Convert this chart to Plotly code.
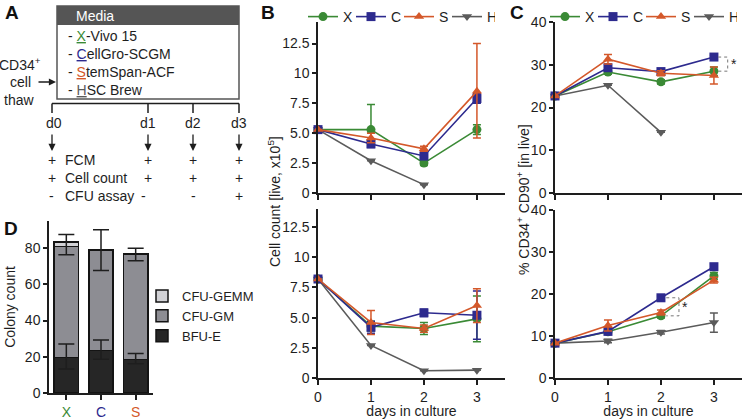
import plotly.graph_objects as go

W, H = 744, 419

# ---------------- data ----------------
days = [0, 1, 2, 3]
series = ["X", "C", "S", "H"]

# Panel B top: cell count [live, x10^5]
cnt_top = {
    "X": [5.3, 5.3, 2.5, 5.3],
    "C": [5.3, 4.1, 3.1, 7.9],
    "S": [5.3, 4.6, 3.7, 8.5],
    "H": [5.3, 2.7, 0.7, None],
}
cnt_top_up = {"X": [0, 2.1, 0.2, 0.4], "C": [0, 0.3, 0.3, 0.4], "S": [0, 0.4, 0.2, 4.0], "H": [0, 0, 0, 0]}
cnt_top_dn = {"X": [0, 0.2, 0.2, 0.4], "C": [0, 0.3, 0.3, 0.4], "S": [0, 0.4, 0.2, 3.9], "H": [0, 0, 0, 0]}

# Panel B bottom
cnt_bot = {
    "X": [8.2, 4.3, 4.1, 4.9],
    "C": [8.2, 4.2, 5.4, 5.2],
    "S": [8.2, 4.6, 4.1, 6.0],
    "H": [8.2, 2.7, 0.6, 0.65],
}
cnt_bot_err = {"X": [0, 0.4, 0.5, 1.9], "C": [0, 0.5, 0.3, 2.0], "S": [0, 1.0, 0.3, 1.4], "H": [0, 0, 0, 0]}

# Panel C top: % CD34+ CD90+ [in live]
cd_top = {
    "X": [22.7, 28.3, 26.0, 28.5],
    "C": [22.7, 29.3, 28.4, 31.8],
    "S": [22.7, 31.3, 28.0, 27.5],
    "H": [22.7, 25.2, 14.2, None],
}
cd_top_err = {"X": [0, 0.5, 0.5, 1.0], "C": [0, 0.8, 0.5, 0.4], "S": [0, 1.1, 0.6, 2.0], "H": [0, 0, 0, 0]}

# Panel C bottom
cd_bot = {
    "X": [8.3, 11.0, 14.8, 24.3],
    "C": [8.3, 11.1, 19.1, 26.5],
    "S": [8.3, 12.5, 15.6, 23.3],
    "H": [8.3, 8.8, 10.9, 13.2],
}
cd_bot_err = {"X": [0, 0.5, 0.5, 0.8], "C": [0, 0.5, 0.4, 0.7], "S": [0, 1.3, 0.6, 0.7], "H": [0, 0.4, 0.4, 2.3]}

# Panel D: colony counts
media_d = ["X", "C", "S"]
bfu_e = [19.6, 23.4, 18.5]
bfu_e_up = [7.4, 5.9, 3.3]
bfu_e_dn = [6.3, 4.8, 2.3]
cfu_gm = [61.4, 55.2, 57.9]
cfu_gm_up = [6.5, 11.6, 3.6]
cfu_gm_dn = [4.6, 10.9, 3.4]
cfu_gemm = [2.4, 0.3, 0.4]

cnt_ticks = [0, 2.5, 5, 7.5, 10, 12.5]
cnt_ticktext = ["0", "2.5", "5.0", "7.5", "10", "12.5"]
cd_ticks = [0, 10, 20, 30, 40]
col_ticks = [0, 20, 40, 60, 80]

media_names = ["X-Vivo 15", "CellGro-SCGM", "StemSpan-ACF", "HSC Brew"]
timepoints = ["d0", "d1", "d2", "d3"]

# ---------------- style ----------------
FONT = "Arial, Liberation Sans, Helvetica, sans-serif"
INK = "#1e1e1e"
colors = {"X": "#3a8a35", "C": "#2d2a8e", "S": "#d4582a", "H": "#5b5b5b"}
symbols = {"X": "circle", "C": "square", "S": "triangle-up", "H": "triangle-down"}
rank = {"X": 1, "C": 2, "S": 3, "H": 4}
draw_order = ["H", "X", "C", "S"]


def px(x):
    return x / W


def py(y):
    return 1 - y / H


fig = go.Figure()


def add_series(data, up, dn, xa, ya, legend, show):
    for s in draw_order:
        fig.add_trace(go.Scatter(
            x=days, y=data[s], name=f"<span style='color:{INK}'>{s}</span>", mode="lines+markers",
            line=dict(color=colors[s], width=1.6),
            marker=dict(symbol=symbols[s], size=9, color=colors[s]),
            error_y=dict(type="data", symmetric=False, array=up[s], arrayminus=dn[s],
                         color=colors[s], thickness=1.5, width=4),
            cliponaxis=False, xaxis=xa, yaxis=ya,
            legend=legend, showlegend=show, legendrank=rank[s],
        ))


add_series(cnt_top, cnt_top_up, cnt_top_dn, "x", "y", "legend", True)
add_series(cnt_bot, cnt_bot_err, cnt_bot_err, "x2", "y2", "legend", False)
add_series(cd_top, cd_top_err, cd_top_err, "x3", "y3", "legend2", True)
add_series(cd_bot, cd_bot_err, cd_bot_err, "x4", "y4", "legend2", False)

bar_line = dict(color="#141414", width=1.5)
fig.add_trace(go.Bar(x=media_d, y=bfu_e, name="BFU-E", marker=dict(color="#262626", line=bar_line),
                     xaxis="x5", yaxis="y5", legend="legend3", width=0.7))
fig.add_trace(go.Bar(x=media_d, y=cfu_gm, name="CFU-GM", marker=dict(color="#8d8d93", line=bar_line),
                     xaxis="x5", yaxis="y5", legend="legend3", width=0.7))
fig.add_trace(go.Bar(x=media_d, y=cfu_gemm, name="CFU-GEMM", marker=dict(color="#d2d2d6", line=bar_line),
                     xaxis="x5", yaxis="y5", legend="legend3", width=0.7))

# error bars drawn above the stacked bars (BFU-E level and CFU-GM stacked top)
gm_top = [b + g for b, g in zip(bfu_e, cfu_gm)]
for yy, up, dn in [(bfu_e, bfu_e_up, bfu_e_dn), (gm_top, cfu_gm_up, cfu_gm_dn)]:
    fig.add_trace(go.Scatter(x=media_d, y=yy, mode="markers",
                             marker=dict(size=1, color="rgba(0,0,0,0)"),
                             error_y=dict(type="data", symmetric=False, array=up, arrayminus=dn,
                                          color=INK, thickness=1.5, width=8),
                             xaxis="x5", yaxis="y5", showlegend=False, hoverinfo="skip"))

# ---------------- axes ----------------
ax_common = dict(showline=True, linecolor=INK, linewidth=1.5, ticks="outside", ticklen=5,
                 tickwidth=1.5, tickcolor=INK, showgrid=False, zeroline=False,
                 tickfont=dict(family=FONT, size=14, color=INK))

bx = [px(318), px(505)]
cx = [px(555), px(742)]
top_y = [py(193), py(22)]
bot_y = [py(378), py(209)]

xday = dict(ax_common, range=[0, 3.53], tickvals=days)
fig.update_layout(
    xaxis=dict(xday, domain=bx, anchor="y", showticklabels=False),
    yaxis=dict(ax_common, domain=top_y, anchor="x", range=[0, 14.3], tickvals=cnt_ticks, ticktext=cnt_ticktext, ticklen=4),
    xaxis2=dict(xday, domain=bx, anchor="y2",
                title=dict(text="days in culture", font=dict(family=FONT, size=14, color=INK), standoff=2)),
    yaxis2=dict(ax_common, domain=bot_y, anchor="x2", range=[0, 14.0], tickvals=cnt_ticks, ticktext=cnt_ticktext, ticklen=4),
    xaxis3=dict(xday, domain=cx, anchor="y3", showticklabels=False),
    yaxis3=dict(ax_common, domain=top_y, anchor="x3", range=[0, 40], tickvals=cd_ticks, ticklen=4),
    xaxis4=dict(xday, domain=cx, anchor="y4",
                title=dict(text="days in culture", font=dict(family=FONT, size=14, color=INK), standoff=2)),
    yaxis4=dict(ax_common, domain=[py(378), py(210)], anchor="x4", range=[0, 40], tickvals=cd_ticks, ticklen=4),
    xaxis5=dict(ax_common, domain=[px(49), px(153)], anchor="y5", range=[-0.5, 2.5],
                tickvals=media_d,
                ticktext=[f"<span style='color:{colors[m]}'>{m}</span>" for m in media_d]),
    yaxis5=dict(ax_common, domain=[py(393), py(221)], anchor="x5", range=[0, 95], tickvals=col_ticks, ticklen=4,
                title=dict(text="Colony count", font=dict(family=FONT, size=14, color=INK), standoff=6)),
    barmode="stack",
)

leg_common = dict(orientation="h", font=dict(family=FONT, size=14, color=INK), bgcolor="rgba(0,0,0,0)",
                  itemsizing="trace", traceorder="normal", xanchor="left", yanchor="middle",
                  itemwidth=30, entrywidth=3, entrywidthmode="pixels")
fig.update_layout(
    legend=dict(leg_common, x=px(303), y=py(17)),
    legend2=dict(leg_common, x=px(545), y=py(17)),
    legend3=dict(font=dict(family=FONT, size=13, color=INK), bgcolor="rgba(0,0,0,0)", traceorder="reversed",
                 x=px(142), y=py(316), xanchor="left", yanchor="middle", tracegroupgap=0, itemwidth=30),
)

shapes = []
annotations = []

# significance brackets (panel C)
def bracket(xa, ya, xday_, y_hi, y_lo, x_end, star_x):
    shapes.append(dict(type="path", xref=xa, yref=ya,
                       path=f"M {xday_},{y_hi} L {x_end},{y_hi} L {x_end},{y_lo} L {xday_},{y_lo}",
                       line=dict(color="#777777", width=1, dash="dot")))
    annotations.append(dict(text="*", xref=xa, yref=ya, x=star_x, y=(y_hi + y_lo) / 2,
                            xanchor="center", yanchor="middle",
                            showarrow=False, font=dict(family=FONT, size=14, color=INK)))

bracket("x3", "y3", 3.08, cd_top["C"][3], cd_top["X"][3], 3.26, 3.38)
bracket("x4", "y4", 2.1, cd_bot["C"][2], cd_bot["X"][2], 2.34, 2.46)

# axis titles spanning panels
annotations.append(dict(text="Cell count [live, x10<sup>5</sup>]", xref="paper", yref="paper",
                        x=px(274), y=py(202), textangle=-90, showarrow=False,
                        xanchor="center", yanchor="middle",
                        font=dict(family=FONT, size=14, color=INK)))
annotations.append(dict(text="% CD34<sup>+</sup> CD90<sup>+</sup> [in live]", xref="paper", yref="paper",
                        x=px(523), y=py(200), textangle=-90, showarrow=False,
                        xanchor="center", yanchor="middle",
                        font=dict(family=FONT, size=14, color=INK)))

# panel letters
for lab, (lx, ly) in {"A": (12, 13), "B": (268, 13), "C": (517, 13), "D": (11, 228)}.items():
    annotations.append(dict(text=f"<b>{lab}</b>", xref="paper", yref="paper", x=px(lx), y=py(ly),
                            xanchor="center", yanchor="middle",
                            showarrow=False, font=dict(family=FONT, size=19, color="#111")))

# ---------------- panel A schematic ----------------
def t(text, x, y, anchor="center", size=14, color=INK):
    annotations.append(dict(text=text, xref="paper", yref="paper", x=px(x), y=py(y), xanchor=anchor,
                            yanchor="middle", showarrow=False, font=dict(family=FONT, size=size, color=color)))

def arrow(x0, y0, x1, y1):
    annotations.append(dict(text="", xref="paper", yref="paper", x=px(x1), y=py(y1),
                            ax=x0 - x1, ay=y0 - y1, axref="pixel", ayref="pixel",
                            showarrow=True, arrowhead=2, arrowsize=1.1, arrowwidth=1.3, arrowcolor=INK))

def pline(x0, y0, x1, y1, w=1.5):
    shapes.append(dict(type="line", xref="paper", yref="paper", x0=px(x0), y0=py(y0), x1=px(x1), y1=py(y1),
                       line=dict(color=INK, width=w)))

shapes.append(dict(type="rect", xref="paper", yref="paper", x0=px(57), y0=py(25), x1=px(239), y1=py(6),
                   fillcolor="#555555", line=dict(width=0)))
shapes.append(dict(type="rect", xref="paper", yref="paper", x0=px(57), y0=py(99), x1=px(239), y1=py(6),
                   line=dict(color="#555555", width=1.5)))
t("Media", 95, 15.5, color="white")
for i, name in enumerate(media_names):
    key = name[0]
    t(f"- <span style='color:{colors[key]}'><u>{key}</u></span>{name[1:]}", 66, 36 + i * 18, anchor="left")

t("CD34<sup>+</sup>", 20, 64)
t("cell", 20, 82)
t("thaw", 19, 100)
arrow(37, 82, 56, 82)

tl_x = [52, 148, 193, 239]
pline(52, 103.5, 239, 103.5)
for i, xx in enumerate(tl_x):
    pline(xx, 103.5, xx, 113)
    t(timepoints[i], xx + (2 if i == 0 else 0), 123)
    arrow(xx, 133, xx, 151)

rows = [("+", "FCM", ["+", "+", "+"]), ("+", "Cell count", ["+", "+", "+"]), ("-", "CFU assay", ["-", "-", "+"])]
for r, (s0, lab, rest) in enumerate(rows):
    yy = 160 + r * 18
    t(s0, 52, yy)
    t(lab, 63, yy, anchor="left")
    for j, sgn in enumerate(rest):
        xx = tl_x[j + 1] - (5 if (sgn == "-" and j == 0) else 0)
        t(sgn, xx, yy)

fig.update_layout(
    width=W, height=H, margin=dict(l=0, r=0, t=0, b=0, autoexpand=False),
    paper_bgcolor="white", plot_bgcolor="white",
    font=dict(family=FONT, size=14, color=INK),
    shapes=shapes, annotations=annotations,
)

fig.write_html("out.html", config={"displayModeBar": False},
               post_script="document.body.style.margin='0';")
